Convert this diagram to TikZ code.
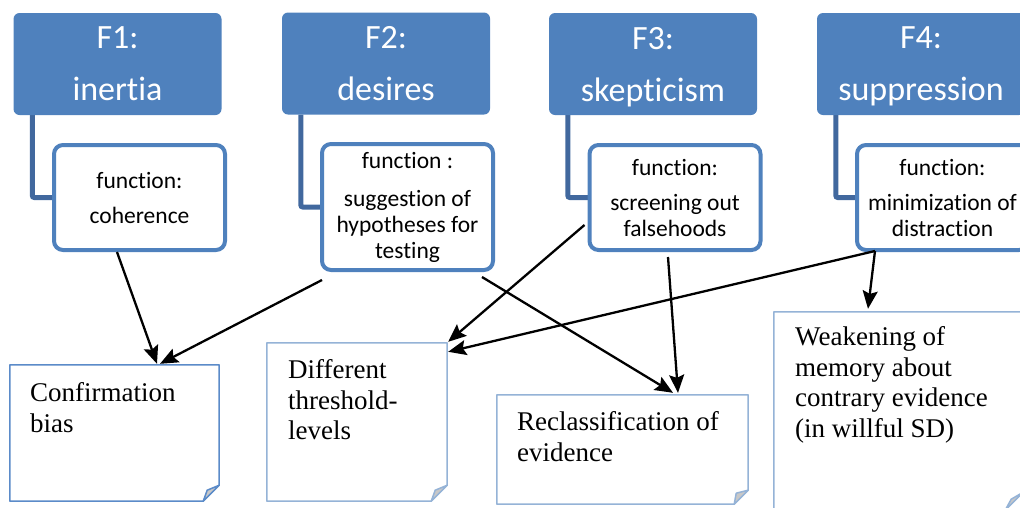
\documentclass[tikz,border=0pt]{standalone}
\usepackage{fontspec}
\setmainfont{Liberation Serif}
\setsansfont[Ligatures={NoCommon,NoContextual}]{Carlito}
\usetikzlibrary{arrows.meta,calc,backgrounds}

\definecolor{hdrblue}{HTML}{4F81BD}
\definecolor{linkblue}{HTML}{41689E}
\definecolor{noteblue}{HTML}{95B3D7}
\definecolor{notedark}{HTML}{5B8BC9}
\definecolor{foldgray}{HTML}{C8C8C8}

\begin{document}
\begin{tikzpicture}[x=1pt,y=-1pt,
  header/.style={fill=hdrblue, rounded corners=6pt, minimum width=208pt,
    minimum height=102pt, text=white, inner sep=0pt, align=center,
    font=\sffamily\fontsize{34}{41}\selectfont},
  funcbox/.style={draw=hdrblue, line width=4pt, rounded corners=9pt, fill=white,
    minimum width=171pt, inner sep=0pt, align=center,
    font=\sffamily\fontsize{23.5}{26}\selectfont},
  link/.style={draw=linkblue, line width=5pt, rounded corners=2pt},
  notebox/.style={inner sep=0pt},
  noteline/.style={line width=1.5pt, line join=round},
  notetext/.style={inner sep=0pt, anchor=north west, align=left,
    font=\rmfamily\fontsize{27}{30.5}\selectfont},
  arrow/.style={draw=black, line width=2.3pt,
    -{Stealth[length=18pt,width=15pt,inset=3pt]}}
]
\useasboundingbox (0,0) rectangle (1020,507);
\clip (0,0) rectangle (1020,507);

% factor headers
\node[header] (h1) at (117.5,64) {F1:\\[11pt]\smash{inertia}};
\node[header] (h2) at (386,63.5) {F2:\\[11pt]\smash{desires}};
\node[header] (h3) at (653,64) {F3:\\[11pt]\smash{skepticism}};
\node[header] (h4) at (921,64) {F4:\\[11pt]\smash{suppression}};

% function boxes
\node[funcbox, minimum height=105pt] (f1) at (139.5,197.5)
  {function:\\[9pt]coherence};
\node[funcbox, minimum height=126pt] (f2) at (407.5,207)
  {function :\\[12pt]suggestion of\\hypotheses for\\testing};
\node[funcbox, minimum height=105pt] (f3) at (675,197.5)
  {function:\\[9pt]screening out\\falsehoods};
\node[funcbox, minimum height=105pt] (f4) at (942.5,197.5)
  {function:\\[9pt]minimization of\\distraction};

% elbow links from each header down to its function box
\begin{scope}[on background layer]
\foreach \n in {1,2,3,4}
  \draw[link] ($(h\n.south west)+(19,0)$) |- ($(f\n.west)+(2,0)$);
\end{scope}

% effect notes
\node[notebox, minimum width=209pt, minimum height=136pt] (cb) at (114.5,433) {};
\node[notebox, minimum width=180pt, minimum height=158pt] (dt) at (357,422) {};
\node[notebox, minimum width=251pt, minimum height=109pt] (re) at (622.5,449.5) {};
\node[notebox, minimum width=249pt, minimum height=198pt] (wk) at (898.5,411) {};

\foreach \n/\c/\s in {cb/notedark/16, dt/noteblue/16, re/noteblue/14, wk/noteblue/18} {
  \draw[noteline, draw=\c, fill=white] (\n.north west) -- (\n.north east)
    -- ($(\n.south east)+(0,-\s)$) -- ($(\n.south east)+(-\s,0)$)
    -- (\n.south west) -- cycle;
  \draw[noteline, draw=\c, fill=foldgray] ($(\n.south east)+(0,-\s)$)
    -- ($(\n.south east)+(-\s,0)$) -- ($(\n.south east)+(-12,-11)$) -- cycle;
}

\node[notetext] (cbt) at (30,382.5) {Confirmation\\bias};
\node[notetext] (dtt) at (288,359.5) {Different\\threshold-\\levels};
\node[notetext] (ret) at (517,411.5) {Reclassification of\\evidence};
\node[notetext] (wkt) at (795,326.5) {Weakening of\\memory about\\contrary evidence\\(in willful SD)};

% influence arrows
\draw[arrow] ($(f1.south)+(-22.5,0)$) -- ($(cb.north)+(42.5,-1)$);
\draw[arrow] ($(f2.south west)+(2,8)$) -- ($(cb.north)+(45.5,-1)$);
\draw[arrow] ($(f2.south east)+(-13,5)$) -- ($(re.north)+(50.5,-2)$);
\draw[arrow] ($(f3.west)+(-3,27.5)$) -- ($(dt.north east)+(1,-1)$);
\draw[arrow] ($(f3.south)+(-7,5)$) -- ($(re.north)+(55.5,-2)$);
\draw[arrow] ($(f4.south west)+(20,-1)$) -- ($(dt.north east)+(1,9)$);
\draw[arrow] ($(f4.south west)+(20,-1)$) -- ($(wk.north)+(-30.5,-3)$);
\end{tikzpicture}
\end{document}
